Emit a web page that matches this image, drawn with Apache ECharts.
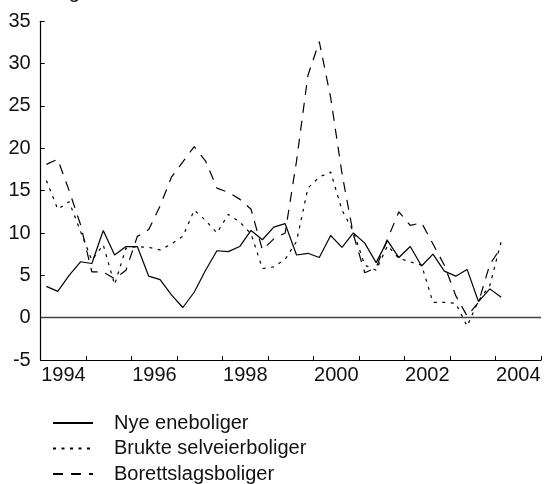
<!DOCTYPE html>
<html>
<head>
<meta charset="utf-8">
<script src="https://cdn.jsdelivr.net/npm/echarts@6/dist/echarts.min.js"></script>
<style>
  html, body { margin: 0; padding: 0; background: #ffffff; }
  #chart { width: 544px; height: 484px; }
</style>
</head>
<body>
<div id="chart"></div>
<script>
// Year bands on the visible axis; the series run on a quarterly axis underneath.
const years = ['1994', '1995', '1996', '1997', '1998', '1999', '2000', '2001', '2002', '2003', '2004'];
const quarters = [];
years.forEach(function (y) { for (let q = 1; q <= 4; q++) quarters.push(y + 'K' + q); });

// Percentage change, 1994K1 - 2004K1
const nyeEneboliger = [
  3.7, 3.1, 5.0, 6.6, 6.4, 10.3, 7.4, 8.4, 8.4, 4.9, 4.5,
  2.7, 1.2, 3.0, 5.6, 7.9, 7.8, 8.4, 10.3, 9.2, 10.7, 11.1,
  7.4, 7.6, 7.1, 9.7, 8.3, 10.0, 8.8, 6.5, 9.1, 7.1, 8.4,
  6.1, 7.5, 5.5, 4.9, 5.7, 1.9, 3.4, 2.4
];
const brukteSelveierboliger = [
  16.2, 12.8, 13.7, 10.2, 6.8, 8.6, 3.9, 8.2, 8.4, 8.3, 8.0,
  8.7, 9.6, 12.7, 11.5, 10.0, 12.2, 11.3, 9.9, 5.8, 6.0, 6.9,
  9.0, 15.3, 16.6, 17.2, 12.7, 10.2, 6.2, 5.6, 8.5, 7.0, 6.6,
  6.2, 1.8, 1.8, 1.7, -1.0, 2.0, 3.8, 9.0
];
const borettslagsboliger = [
  18.1, 18.7, 15.0, 11.0, 5.4, 5.4, 4.6, 5.6, 9.6, 10.4, 13.2,
  16.6, 18.4, 20.2, 18.5, 15.3, 14.8, 14.0, 12.8, 8.0, 9.3, 10.0,
  18.5, 28.6, 32.6, 26.0, 17.0, 9.8, 5.3, 5.9, 9.3, 12.5, 10.9,
  11.2, 8.7, 6.2, 2.6, 0.2, 1.8, 6.3, 8.3
];

const yMin = -5, yMax = 35, yStep = 5;
const font = '"Liberation Sans", Arial, Helvetica, sans-serif';
const ink = '#111111';

function lineSeries(name, data, dash) {
  return {
    name: name,
    type: 'line',
    xAxisIndex: 1,
    yAxisIndex: 0,
    data: data,
    symbol: 'none',
    smooth: false,
    animation: false,
    lineStyle: { color: '#000000', width: 1.2, type: dash },
    itemStyle: { color: '#000000' }
  };
}

const chart = echarts.init(document.getElementById('chart'), null, { renderer: 'canvas' });

const solid = lineSeries('Nye eneboliger', nyeEneboliger, 'solid');
solid.markLine = {
  silent: true,
  symbol: 'none',
  label: { show: false },
  lineStyle: { color: '#444444', width: 1.3, type: 'solid' },
  data: [{ yAxis: 0 }]
};

chart.setOption({
  backgroundColor: '#ffffff',
  animation: false,
  textStyle: { fontFamily: font },
  graphic: [{
    type: 'text',
    left: 11,
    top: -18,
    style: { text: 'Endring', font: '20px ' + font, fill: ink }
  }],
  grid: { left: 40.7, right: 3, top: 21.3, bottom: 124, containLabel: false },
  legend: {
    orient: 'vertical',
    left: 52,
    top: 413,
    height: 80,
    padding: 0,
    itemWidth: 40,
    itemHeight: 14,
    itemGap: 5.5,
    itemStyle: { opacity: 0 },
    textStyle: { fontFamily: font, fontSize: 20, color: ink, padding: [0, 0, 0, 16] },
    data: ['Nye eneboliger', 'Brukte selveierboliger', 'Borettslagsboliger']
  },
  xAxis: [
    {
      type: 'category',
      data: years,
      boundaryGap: true,
      position: 'bottom',
      axisLine: { show: true, onZero: false, lineStyle: { color: '#000000', width: 1.2 } },
      axisTick: { show: true, inside: true, length: 4, interval: 0, lineStyle: { color: '#000000', width: 1 } },
      axisLabel: { interval: 1, margin: 5, fontSize: 20, color: ink, fontFamily: font },
      splitLine: { show: false }
    },
    {
      type: 'category',
      data: quarters,
      boundaryGap: true,
      show: false
    }
  ],
  yAxis: [{
    type: 'value',
    min: yMin,
    max: yMax,
    interval: yStep,
    axisLine: { show: true, lineStyle: { color: '#000000', width: 1.2 } },
    axisTick: { show: true, inside: true, length: 4, lineStyle: { color: '#000000', width: 1 } },
    axisLabel: { margin: 10, fontSize: 20, color: ink, fontFamily: font },
    splitLine: { show: false }
  }],
  series: [
    solid,
    lineSeries('Brukte selveierboliger', brukteSelveierboliger, [3, 5.5]),
    lineSeries('Borettslagsboliger', borettslagsboliger, [10, 8])
  ]
});
</script>
</body>
</html>
